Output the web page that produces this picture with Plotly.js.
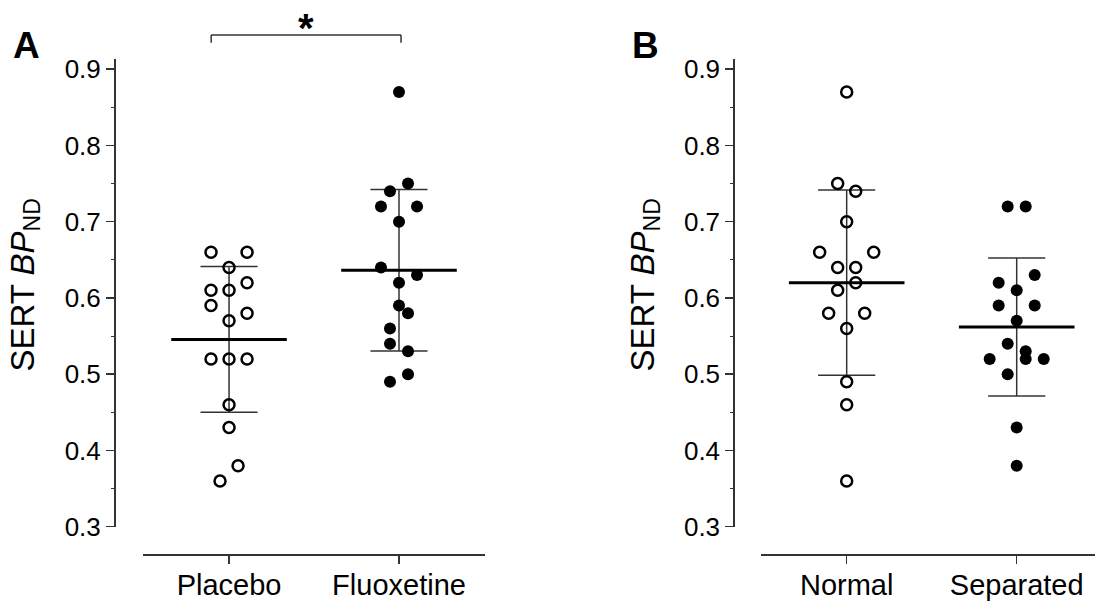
<!DOCTYPE html>
<html>
<head>
<meta charset="utf-8">
<script src="https://cdn.plot.ly/plotly-3.0.1.min.js"></script>
<style>html,body{margin:0;padding:0;background:#fff;}#chart{width:1095px;height:601px;}</style>
</head>
<body>
<div id="chart"></div>
<script>
// ---- data ----
const categoriesA = ['Placebo', 'Fluoxetine'];
const categoriesB = ['Normal', 'Separated'];
const yTickVals = [0.3, 0.4, 0.5, 0.6, 0.7, 0.8, 0.9];

const placebo      = [0.66, 0.66, 0.64, 0.62, 0.61, 0.61, 0.59, 0.58, 0.57, 0.52, 0.52, 0.52, 0.46, 0.43, 0.38, 0.36];
const placeboSlot  = [-2, 2, 0, 2, -2, 0, -2, 2, 0, -2, 0, 2, 0, 0, 1, -1];
const fluoxetine     = [0.87, 0.75, 0.74, 0.72, 0.72, 0.70, 0.64, 0.63, 0.62, 0.59, 0.58, 0.56, 0.54, 0.53, 0.50, 0.49];
const fluoxetineSlot = [0, 1, -1, -2, 2, 0, -2, 2, 0, 0, 1, -1, -1, 1, 1, -1];

const normal      = [0.87, 0.75, 0.74, 0.70, 0.66, 0.66, 0.64, 0.64, 0.62, 0.61, 0.58, 0.58, 0.56, 0.49, 0.46, 0.36];
const normalSlot  = [0, -1, 1, 0, -3, 3, -1, 1, 1, -1, -2, 2, 0, 0, 0, 0];
const separated     = [0.72, 0.72, 0.63, 0.62, 0.61, 0.59, 0.59, 0.57, 0.54, 0.53, 0.52, 0.52, 0.52, 0.50, 0.43, 0.38];
const separatedSlot = [-1, 1, 2, -2, 0, -2, 2, 0, -1, 1, -3, 1, 3, -1, 0, 0];

// ---- layout constants ----
const W = 1095, H = 601;
const SLOT = 0.053, MEANHALF = 0.34, CAPHALF = 0.168;
const FONT = 'Liberation Sans, Arial, Helvetica, sans-serif';
const AX = '#333333';

function mean(a){ return a.reduce((s,v)=>s+v,0)/a.length; }
function sd(a){ const m=mean(a); return Math.sqrt(a.reduce((s,v)=>s+(v-m)*(v-m),0)/(a.length-1)); }

const traces = [];
function addGroup(vals, slots, idx, xa, ya, filled){
  const m = mean(vals), s = sd(vals);
  const lineStyle = {color: AX, width: 1.5};
  traces.push({type:'scatter', mode:'lines', x:[idx, idx], y:[m-s, m+s], xaxis:xa, yaxis:ya, line:lineStyle, hoverinfo:'skip', showlegend:false});
  traces.push({type:'scatter', mode:'lines', x:[idx-CAPHALF, idx+CAPHALF], y:[m+s, m+s], xaxis:xa, yaxis:ya, line:lineStyle, hoverinfo:'skip', showlegend:false});
  traces.push({type:'scatter', mode:'lines', x:[idx-CAPHALF, idx+CAPHALF], y:[m-s, m-s], xaxis:xa, yaxis:ya, line:lineStyle, hoverinfo:'skip', showlegend:false});
  traces.push({type:'scatter', mode:'lines', x:[idx-MEANHALF, idx+MEANHALF], y:[m, m], xaxis:xa, yaxis:ya, line:{color:'#000', width:3}, hoverinfo:'skip', showlegend:false});
  traces.push({type:'scatter', mode:'markers', x:slots.map(k=>idx+k*SLOT), y:vals, xaxis:xa, yaxis:ya, showlegend:false,
    marker: filled ? {symbol:'circle', size:12, color:'#000', line:{width:0}}
                   : {symbol:'circle-open', size:11, color:'#000', line:{width:2.5, color:'#000'}}});
}
addGroup(placebo, placeboSlot, 0, 'x', 'y', false);
addGroup(fluoxetine, fluoxetineSlot, 1, 'x', 'y', true);
addGroup(normal, normalSlot, 0, 'x2', 'y2', false);
addGroup(separated, separatedSlot, 1, 'x2', 'y2', true);

const py = px => (H - px) / H;
const pxX = px => px / W;

function yAxis(pos){
  return {
    anchor:'free', position: pos, domain:[py(526.7), py(59.3)], range:[0.3, 0.913],
    tickvals: yTickVals, tickformat:'.1f', ticks:'outside', ticklen:8, tickwidth:1.5, tickcolor:AX,
    showline:true, linecolor:AX, linewidth:1.5, showgrid:false, zeroline:false,
    tickfont:{family:FONT, size:26, color:'#000'},
    minor:{dtick:0.05, ticks:'outside', ticklen:3, tickwidth:1, tickcolor:AX, showgrid:false}
  };
}
function xAxis(domain, range, cats){
  return {
    anchor:'free', position: py(554.3), domain: domain, range: range,
    tickvals:[0,1], ticktext:cats, ticks:'outside', ticklen:8, tickwidth:1.5, tickcolor:AX,
    showline:true, linecolor:AX, linewidth:1.5, showgrid:false, zeroline:false,
    ticklabelstandoff:-4,
    tickfont:{family:FONT, size:29, color:'#000'}
  };
}

const titleText = 'SERT <i>BP</i><sub>ND</sub>';
const layout = {
  width: W, height: H, margin:{l:0, r:0, t:0, b:0}, paper_bgcolor:'#fff', plot_bgcolor:'rgba(0,0,0,0)',
  showlegend:false, font:{family:FONT, color:'#000'},
  xaxis: xAxis([pxX(142.7), pxX(485)], [-0.508, 1.506], categoriesA),
  yaxis: yAxis(pxX(114)),
  xaxis2: xAxis([pxX(761), 1], [-0.504, 1.4606], categoriesB),
  yaxis2: yAxis(pxX(733.3)),
  annotations: [
    {text:titleText, xref:'paper', yref:'paper', x:pxX(24), y:py(285.5), xanchor:'center', yanchor:'middle', textangle:-90, showarrow:false, font:{family:FONT, size:33, color:'#000'}},
    {text:titleText, xref:'paper', yref:'paper', x:pxX(644), y:py(285.5), xanchor:'center', yanchor:'middle', textangle:-90, showarrow:false, font:{family:FONT, size:33, color:'#000'}},
    {text:'<b>A</b>', xref:'paper', yref:'paper', x:pxX(26.7), y:py(45), xanchor:'center', yanchor:'middle', showarrow:false, font:{family:FONT, size:37, color:'#000'}},
    {text:'<b>B</b>', xref:'paper', yref:'paper', x:pxX(646), y:py(45.5), xanchor:'center', yanchor:'middle', showarrow:false, font:{family:FONT, size:37, color:'#000'}},
    {text:'<b>*</b>', xref:'x', yref:'paper', x:(-0.105+1.012)/2, y:py(4), xanchor:'center', yanchor:'top', showarrow:false, font:{family:FONT, size:40, color:'#000'}}
  ]
};
// significance bracket (Placebo vs Fluoxetine)
const bx0 = -0.105, bx1 = 1.012, byTop = py(35), byEnd = py(42.7);
layout.shapes = [
  {type:'line', xref:'x', yref:'paper', x0:bx0, x1:bx1, y0:byTop, y1:byTop, line:{color:AX, width:1.5}},
  {type:'line', xref:'x', yref:'paper', x0:bx0, x1:bx0, y0:byTop, y1:byEnd, line:{color:AX, width:1.5}},
  {type:'line', xref:'x', yref:'paper', x0:bx1, x1:bx1, y0:byTop, y1:byEnd, line:{color:AX, width:1.5}}
];

Plotly.newPlot('chart', traces, layout, {displayModeBar:false, staticPlot:true});
</script>
</body>
</html>
